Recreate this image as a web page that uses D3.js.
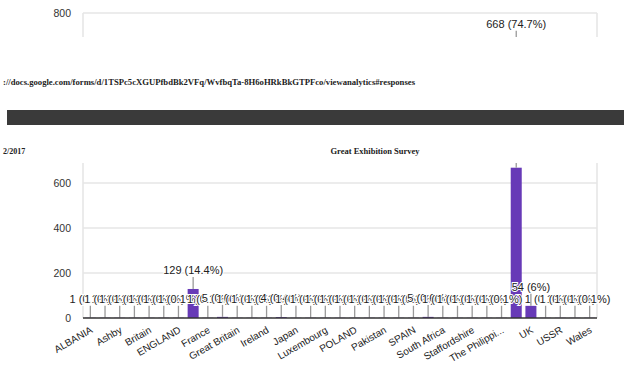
<!DOCTYPE html>
<html><head><meta charset="utf-8">
<script src="https://cdn.jsdelivr.net/npm/d3@7"></script>
<style>html,body{margin:0;padding:0;background:#fff;} svg{display:block;}</style>
</head><body>
<script>
// ---- data ----
const categories = ["ALBANIA","Albania","Ashby","Australia","Britain","Canada","ENGLAND","England","France","Germany","Great Britain","India","Ireland","Italy","Japan","Kenya","Luxembourg","Netherlands","POLAND","PORTUGAL","Pakistan","Poland","SPAIN","Scotland","South Africa","Spain","Staffordshire","Switzerland","The Philippines","UK","UK ","UNITED KINGDOM","USSR","United Kingdom","Wales"];
const counts = [1,1,1,1,1,1,1,129,1,5,1,1,1,4,1,1,1,1,1,1,1,1,1,5,1,1,1,1,1,668,54,1,1,1,1];
const yTicks = [0,200,400,600,800];
const chartTitle = "Great Exhibition Survey";
const pageUrl = "://docs.google.com/forms/d/1TSPc5cXGUPfbdBk2VFq/WvfbqTa-8H6oHRkBkGTPFco/viewanalytics#responses";
const pageDate = "2/2017";

// ---- layout ----
const W = 624, H = 368;
const svg = d3.select("body").append("svg").attr("width", W).attr("height", H);
svg.append("rect").attr("width", W).attr("height", H).attr("fill", "#fff");

const x = d3.scaleBand().domain(categories).range([83, 597]).paddingInner(0.25).paddingOuter(0.125);
const y = d3.scaleLinear().domain([0, 800]).range([318, 138]);
const total = d3.sum(counts);
const data = categories.map((c, i) => ({ c, v: counts[i], i }));
const pct = v => { const p = Math.round(v / total * 1000) / 10; return `${v} (${p}%)`; };
const shortLabel = s => s.length > 14 ? s.slice(0, 12) + "..." : s;

const defs = svg.append("defs");
defs.append("clipPath").attr("id", "clipTop").append("rect")
  .attr("x", 0).attr("y", 0).attr("width", W).attr("height", 37);
defs.append("clipPath").attr("id", "clipBot").append("rect")
  .attr("x", 0).attr("y", 163).attr("width", W).attr("height", H - 163);

function drawChart(g) {
  const [x0, x1] = x.range();
  g.selectAll("line.grid").data(yTicks.filter(t => t > 0)).join("line").attr("class", "grid")
    .attr("x1", x0).attr("x2", x1).attr("y1", d => y(d)).attr("y2", d => y(d))
    .attr("stroke", "#e6e6e6").attr("stroke-width", 1.6);
  g.selectAll("line.side").data([x0, x1]).join("line").attr("class", "side")
    .attr("x1", d => d).attr("x2", d => d).attr("y1", y(800)).attr("y2", y(0))
    .attr("stroke", "#e6e6e6").attr("stroke-width", 1.6);
  g.selectAll("text.ytick").data(yTicks).join("text").attr("class", "ytick")
    .attr("x", 71).attr("y", d => y(d)).attr("dy", "0.35em")
    .attr("text-anchor", "end").attr("font-family", "Liberation Sans, Arial, sans-serif")
    .attr("font-size", 10.5).attr("fill", "#333").text(d => d);
  g.selectAll("rect.bar").data(data).join("rect").attr("class", "bar")
    .attr("x", d => x(d.c)).attr("width", x.bandwidth())
    .attr("y", d => y(d.v)).attr("height", d => y(0) - y(d.v))
    .attr("fill", "#673ab7");
  g.selectAll("text.ann").data(data).join("text").attr("class", "ann")
    .attr("x", d => x(d.c) + x.bandwidth() / 2).attr("y", d => y(d.v) - 15)
    .attr("text-anchor", "middle").attr("font-family", "Liberation Sans, Arial, sans-serif")
    .attr("font-size", 11).attr("fill", "#222")
    .attr("stroke", "#fff").attr("stroke-width", 2).attr("paint-order", "stroke")
    .text(d => pct(d.v));
  g.selectAll("line.stem").data(data).join("line").attr("class", "stem")
    .attr("x1", d => x(d.c) + x.bandwidth() / 2).attr("x2", d => x(d.c) + x.bandwidth() / 2)
    .attr("y1", d => y(d.v)).attr("y2", d => y(d.v) - 12)
    .attr("stroke", "#999").attr("stroke-width", 1.3);
  g.append("line").attr("x1", x0).attr("x2", x1).attr("y1", y(0)).attr("y2", y(0))
    .attr("stroke", "#333").attr("stroke-width", 1.5);
  g.selectAll("text.xl").data(data.filter(d => d.i % 2 === 0)).join("text").attr("class", "xl")
    .attr("transform", d => `translate(${x(d.c) + x.bandwidth() / 2 + 3},${y(0) + 14}) rotate(-30)`)
    .attr("text-anchor", "end").attr("font-family", "Liberation Sans, Arial, sans-serif")
    .attr("font-size", 10).attr("fill", "#222").text(d => shortLabel(d.c));
}

const topPart = svg.append("g").attr("clip-path", "url(#clipTop)")
  .append("g").attr("transform", `translate(0,${13 - y(800)})`);
drawChart(topPart);

const botPart = svg.append("g").attr("clip-path", "url(#clipBot)");
drawChart(botPart);

svg.append("text").attr("x", 3).attr("y", 85).attr("font-family", "Liberation Serif, serif")
  .attr("font-size", 8).attr("font-weight", "bold").attr("fill", "#222")
  .attr("textLength", 412).attr("lengthAdjust", "spacingAndGlyphs").text(pageUrl);
svg.append("rect").attr("x", 7).attr("y", 110).attr("width", W - 7).attr("height", 15).attr("fill", "#3a3a3a");
svg.append("text").attr("x", 3).attr("y", 154).attr("font-family", "Liberation Serif, serif")
  .attr("font-size", 8).attr("font-weight", "bold").attr("fill", "#222").text(pageDate);
svg.append("text").attr("x", 375).attr("y", 154).attr("text-anchor", "middle")
  .attr("font-family", "Liberation Serif, serif")
  .attr("font-size", 8.5).attr("font-weight", "bold").attr("fill", "#222").text(chartTitle);
</script>
</body></html>
